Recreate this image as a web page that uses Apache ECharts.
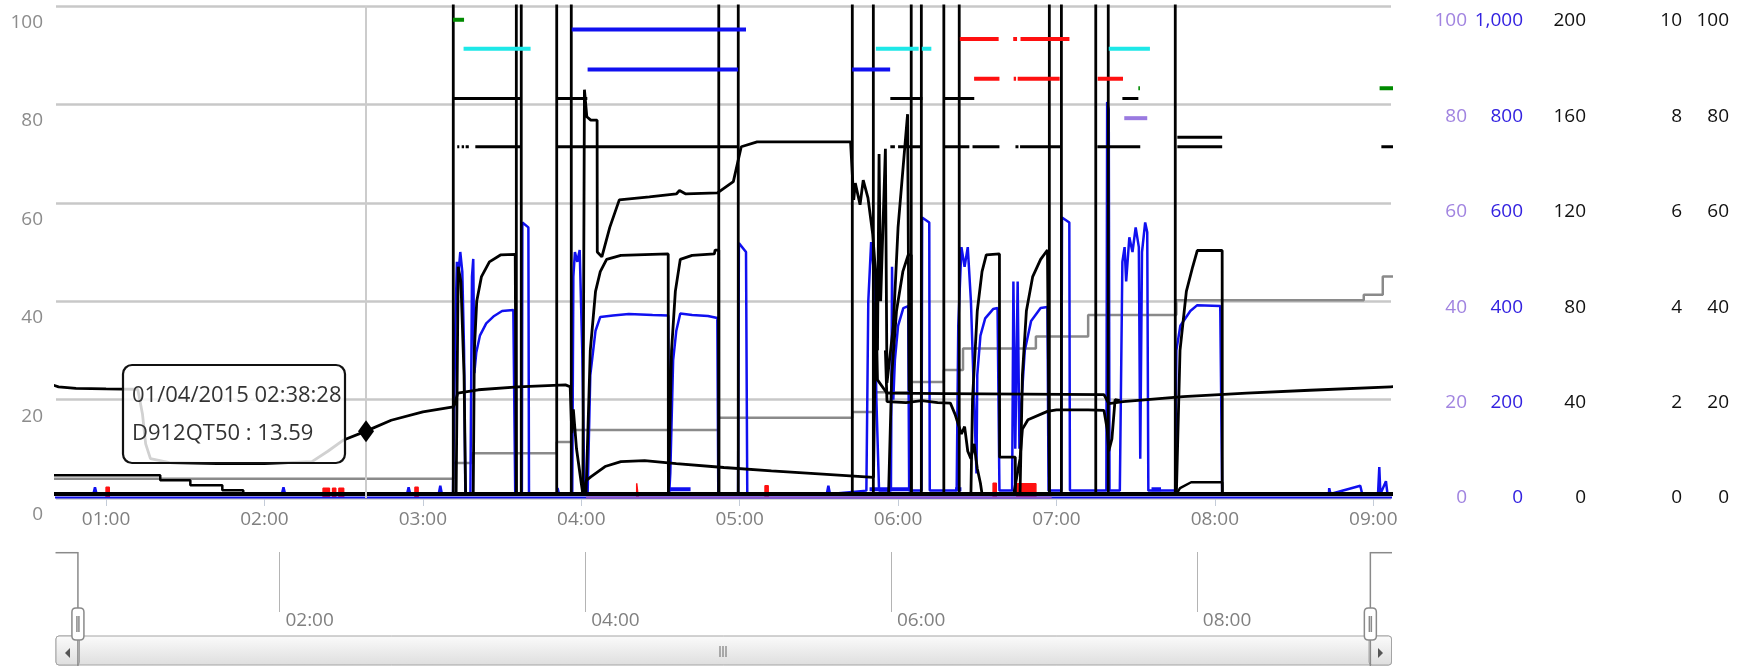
<!DOCTYPE html>
<html>
<head>
<meta charset="utf-8">
<script src="https://cdn.jsdelivr.net/npm/echarts@6.0.0/dist/echarts.min.js"></script>
<style>
  html, body { margin: 0; padding: 0; background: #fff; }
  #main { width: 1750px; height: 666px; }
</style>
</head>
<body>
<div id="main"></div>
<script>
// all times are decimal hours of 01/04/2015, values in left-axis units (0-100)
const dataStart = 0.55;
const dataEnd = 9.252;
const viewStart = 0.684;
const viewEnd = 9.112;

const leftMax = 100;
const rightMax = [100, 1000, 200, 10, 100];
const overviewHours = [0, 10];   // tick labels 02:00 .. 08:00 of the zoom bar

const tipHour = 2.6411;   // 02:38:28
const tipName = 'D912QT50';

const grayStep = [
  [0.536, 3.9], [3.192, 3.9], [3.192, 7.1], [3.31, 7.1], [3.31, 9.1], [3.845, 9.1], [3.845, 11.4],
  [3.94, 11.4], [3.94, 13.8], [4.868, 13.8], [4.868, 16.3], [5.711, 16.3], [5.711, 17.5], [5.844, 17.5],
  [5.844, 21.5], [6.083, 21.5], [6.083, 23.6], [6.289, 23.6], [6.289, 26], [6.41, 26], [6.41, 30.4],
  [6.87, 30.4], [6.87, 32.8], [7.20, 32.8], [7.20, 37.2], [7.757, 37.2], [7.757, 40.2], [8.94, 40.2],
  [8.94, 41.3], [9.06, 41.3], [9.06, 45], [9.277, 45]
];

const blueFloor = [[0.536, 0.1], [9.277, 0.1]];
const purpleFloor = [[4.03, 0.1], [6.97, 0.1]];

const redBlocks = [[1.0, 1.02, 2.2], [2.37, 2.41, 2.0], [2.43, 2.45, 2.0], [2.47, 2.50, 2.0],
  [2.95, 2.97, 2.2], [4.35, 4.36, 3], [5.16, 5.18, 2.5], [6.60, 6.62, 3], [6.75, 6.87, 2.9]];

const blueLowSpans = [[4.55, 4.69], [5.82, 6.07], [6.36, 6.40], [7.60, 7.66]];
const blueLowLevel = 1.8;

const blueMain = [
  [0.536, 0.8], [0.92, 0.8], [0.93, 2.2], [0.94, 0.8], [2.11, 0.8], [2.12, 2.2], [2.13, 0.8],
  [2.90, 0.8], [2.91, 2.2], [2.92, 0.8], [3.10, 0.8], [3.11, 2.5], [3.12, 0.8],
  [3.19, 0.8], [3.205, 35], [3.215, 48], [3.223, 45], [3.236, 50], [3.249, 46], [3.26, 30], [3.268, 0.8],
  [3.30, 0.8], [3.31, 45], [3.318, 48.6], [3.325, 25.4], [3.337, 29.5], [3.36, 33], [3.40, 35.5],
  [3.45, 37], [3.50, 38], [3.571, 38.2], [3.583, 0.8], [3.625, 0.8], [3.628, 56], [3.666, 55], [3.67, 0.8],
  [3.849, 0.8], [3.85, 2], [3.86, 0.8],
  [3.943, 0.8], [3.95, 45], [3.96, 50], [3.975, 48], [3.99, 50.4], [4.006, 30], [4.02, 0.8], [4.04, 0.8],
  [4.057, 25], [4.09, 34], [4.12, 36.8], [4.20, 37.1], [4.30, 37.4], [4.45, 37.2], [4.549, 37.1],
  [4.555, 0.8], [4.562, 5], [4.58, 28], [4.60, 34], [4.625, 37.5], [4.70, 37.2], [4.80, 37], [4.859, 36.6],
  [4.865, 0.8], [4.99, 0.8], [4.995, 51.8], [5.04, 50], [5.048, 0.8], [5.55, 0.8], [5.56, 2.5], [5.57, 0.8],
  [5.80, 1.5], [5.812, 40], [5.83, 52], [5.85, 45], [5.863, 20], [5.88, 1.5], [5.955, 1.5], [5.962, 47],
  [5.97, 20], [5.98, 28], [6.00, 35], [6.033, 38.6], [6.064, 39], [6.07, 1.5], [6.148, 1.5], [6.152, 57],
  [6.197, 56], [6.20, 1.5], [6.37, 1.5], [6.38, 35], [6.40, 51], [6.42, 47], [6.44, 51], [6.46, 40],
  [6.48, 20], [6.495, 5], [6.50, 25], [6.52, 33], [6.55, 36.5], [6.60, 38.4], [6.628, 38.6], [6.64, 1.5],
  [6.72, 1.5], [6.728, 44], [6.74, 10], [6.755, 44], [6.766, 10], [6.78, 20], [6.80, 30], [6.84, 36],
  [6.90, 38.6], [6.943, 38.8], [6.95, 1.5], [7.03, 1.5], [7.035, 57], [7.081, 56], [7.085, 1.5],
  [7.315, 1.5], [7.32, 80.5], [7.33, 79], [7.335, 1.5], [7.40, 1.5], [7.416, 48], [7.43, 51], [7.44, 44],
  [7.46, 53], [7.48, 50], [7.50, 55], [7.52, 51], [7.529, 8], [7.54, 50], [7.56, 56], [7.573, 54],
  [7.58, 1.5], [7.75, 1.5], [7.757, 30], [7.782, 35], [7.845, 38], [7.889, 39.2], [8.034, 39],
  [8.046, 0.8], [8.72, 0.8], [8.722, 2], [8.73, 0.8], [8.918, 2.5], [8.93, 0.8], [9.03, 0.8],
  [9.038, 6.3], [9.045, 0.8], [9.08, 3.4], [9.09, 0.8], [9.277, 0.8]
];

const blackBase = [[0.536, 0.8], [9.277, 0.8]];

const blackSteps = [
  [0.536, 4.6], [1.342, 4.6], [1.342, 3.6], [1.532, 3.6], [1.532, 2.6], [1.734, 2.6], [1.734, 1.6],
  [1.866, 1.6], [1.866, 0.8], [7.757, 0.8], [7.78, 2], [7.85, 3.2], [8.046, 3.2], [8.047, 0.8]
];

const blackSat = [
  [3.21, 0.8], [3.223, 47], [3.24, 44], [3.26, 25], [3.27, 0.8],
  [3.318, 0.8], [3.325, 30], [3.34, 40], [3.37, 45], [3.42, 48], [3.49, 49.4], [3.583, 49.5], [3.59, 0.8],
  [4.03, 0.8], [4.057, 30], [4.09, 42], [4.12, 46], [4.16, 48.5], [4.25, 49.3], [4.549, 49.6], [4.55, 0.8],
  [4.562, 0.8], [4.57, 30], [4.594, 42], [4.625, 48.5], [4.70, 49.3], [4.84, 49.6], [4.845, 50.4],
  [4.868, 50.4], [4.869, 0.8],
  [5.94, 0.8], [5.96, 25], [5.99, 38], [6.03, 46], [6.064, 49.4], [6.083, 49.4], [6.084, 0.8],
  [6.46, 0.8], [6.47, 20], [6.50, 38], [6.53, 46], [6.557, 49.4], [6.64, 49.6], [6.641, 8.3],
  [6.74, 8.3], [6.741, 0.8],
  [6.77, 0.8], [6.785, 25], [6.81, 38], [6.85, 45], [6.90, 48.5], [6.943, 50.4], [6.955, 50.4], [6.956, 0.8],
  [7.757, 0.8], [7.78, 30], [7.82, 42], [7.86, 47], [7.889, 50.3], [8.046, 50.3], [8.047, 0.8]
];

const blackHigh = [
  [4.01, 0.8], [4.02, 83], [4.035, 77.5], [4.06, 76.8], [4.10, 76.8], [4.101, 50], [4.13, 49], [4.18, 55],
  [4.24, 60.6], [4.43, 61.2], [4.60, 61.8], [4.62, 62.5], [4.66, 61.8], [4.86, 62], [4.96, 64.3],
  [5.01, 71.4], [5.11, 72.4], [5.70, 72.4], [5.72, 60.6], [5.73, 64], [5.76, 59.6], [5.78, 64.6],
  [5.81, 61], [5.84, 53.6], [5.86, 45], [5.87, 30], [5.88, 69.9], [5.89, 40], [5.92, 71], [5.93, 23.4],
  [5.97, 35], [6.00, 55], [6.06, 78], [6.07, 22], [6.09, 21]
];

const blackMid = [
  [5.92, 30], [5.93, 19.6], [6.05, 19.4], [6.15, 19.8], [6.25, 19.4], [6.33, 19.3], [6.36, 17], [6.38, 15],
  [6.40, 13], [6.42, 14.5], [6.44, 9.5], [6.46, 8], [6.48, 11], [6.50, 6], [6.52, 3], [6.53, 0.8]
];

const blackArc = [
  [6.73, 0.8], [6.77, 8], [6.785, 14], [6.82, 15.9], [6.943, 17.6], [7.0, 17.9], [7.2, 17.9], [7.3, 17.8],
  [7.32, 14], [7.33, 9.5], [7.35, 12], [7.37, 20], [7.40, 19.8]
];

const d912 = [
  [0.536, 24.2], [0.62, 23.4], [0.70, 22.6], [0.81, 22.3], [1.0, 22.2], [1.20, 22.1], [1.23, 17],
  [1.25, 11], [1.28, 8], [1.40, 7.2], [1.70, 7.0], [2.00, 7.0], [2.30, 7.4], [2.40, 9.5], [2.50, 11.8],
  [2.6411, 13.59], [2.80, 15.8], [3.00, 17.5], [3.192, 18.5], [3.20, 19], [3.22, 21.3], [3.35, 22],
  [3.60, 22.6], [3.90, 23.0], [3.93, 22.6], [3.94, 13.2], [3.95, 18], [3.97, 10], [4.00, 3], [4.01, 0.8],
  [4.03, 3.5], [4.06, 4.3], [4.15, 6.4], [4.25, 7.4], [4.40, 7.6], [4.60, 7.0], [4.90, 6.2], [5.20, 5.5],
  [5.50, 4.9], [5.845, 4.2], [5.86, 40], [5.87, 24], [5.93, 21.3], [6.30, 21.2], [6.80, 21.1],
  [7.30, 21.0], [7.33, 19.2], [7.42, 19.6], [7.80, 20.6], [8.20, 21.3], [8.60, 21.9], [9.11, 22.6],
  [9.277, 22.8]
];

// on/off trace, switching between ~0 and off-scale
const valveEdges = [3.192, 3.590, 3.621, 3.845, 3.937, 4.868, 4.991, 5.711, 5.844, 6.083,
  6.147, 6.289, 6.386, 6.955, 7.031, 7.248, 7.327, 7.750];
const valveLow = 0.8;
const valveHigh = 115;

const dash81Spans = [[3.192, 3.616], [3.849, 4.038], [5.951, 6.154], [6.292, 6.481], [7.416, 7.517]];
const dash81Level = 81.2;
const dash71Spans = [[3.217, 3.23], [3.245, 3.26], [3.27, 3.29], [3.331, 3.616], [3.849, 4.991],
  [5.951, 5.98], [6.0, 6.141], [6.292, 6.45], [6.47, 6.64], [6.741, 6.76], [6.77, 7.025],
  [7.258, 7.529], [7.763, 8.046], [9.051, 9.277]];
const dash71Level = 71.4;
const dash73Spans = [[7.763, 8.046]];
const dash73Level = 73.3;

const greenHiSpans = [[3.19, 3.26]];
const greenHiLevel = 97.2;
const greenLoSpans = [[7.517, 7.527], [9.04, 9.277]];
const greenLoLevel = 83.3;
const cyanSpans = [[3.257, 3.68], [5.86, 6.13], [6.15, 6.21], [7.33, 7.59]];
const cyanLevel = 91.3;
const blueHiSpans = [[3.94, 5.04]];
const blueHiLevel = 95.2;
const blueLoSpans = [[4.04, 4.99], [5.71, 5.95]];
const blueLoLevel = 87.1;
const redHiSpans = [[6.39, 6.635], [6.727, 6.751], [6.773, 7.082]];
const redHiLevel = 93.3;
const redLoSpans = [[6.48, 6.64], [6.73, 6.745], [6.755, 7.02], [7.26, 7.42]];
const redLoLevel = 85.2;
const purpleSpans = [[7.428, 7.573]];
const purpleLevel = 77.2;

// ---------------------------------------------------------------
const FONT = "'Open Sans', 'Liberation Sans', sans-serif";
const BASE = new Date(2015, 3, 1).getTime();
const HOUR = 3600 * 1000;

function toTime(h) {
  return BASE + Math.round(h * 3600) * 1000;
}
function pts(arr) {
  return arr.map(p => [toTime(p[0]), p[1]]);
}
function spans(list, level) {
  const out = [];
  list.forEach(s => {
    out.push([toTime(s[0]), level], [toTime(s[1]), level], [toTime(s[1]) + 1000, '-']);
  });
  return out;
}
function blocks(list) {
  const out = [];
  list.forEach(b => {
    out.push([toTime(b[0]), 0], [toTime(b[0]), b[2]], [toTime(b[1]), b[2]], [toTime(b[1]), 0],
      [toTime(b[1]) + 1000, '-']);
  });
  return out;
}
function edges(list, lo, hi) {
  const out = [[toTime(dataStart), lo]];
  list.forEach((e, i) => {
    const up = i % 2 === 0;
    out.push([toTime(e), up ? lo : hi], [toTime(e), up ? hi : lo]);
  });
  out.push([toTime(dataEnd), lo]);
  return out;
}
function pad(n) {
  return n < 10 ? '0' + n : '' + n;
}
function hhmm(v) {
  const d = new Date(v);
  return pad(d.getHours()) + ':' + pad(d.getMinutes());
}

function line(name, data, color, width, extra) {
  return Object.assign({
    name: name,
    type: 'line',
    xAxisIndex: 0,
    yAxisIndex: 0,
    data: data,
    showSymbol: false,
    symbol: 'none',
    connectNulls: false,
    animation: false,
    silent: true,
    lineStyle: { color: color, width: width },
    itemStyle: { color: color }
  }, extra || {});
}

const tipIndex = d912.findIndex(p => p[0] === tipHour);
const tipValue = d912[tipIndex][1];
const tipDate = new Date(toTime(tipHour));
const tipStamp = pad(tipDate.getDate()) + '/' + pad(tipDate.getMonth() + 1) + '/' + tipDate.getFullYear() + ' ' +
  pad(tipDate.getHours()) + ':' + pad(tipDate.getMinutes()) + ':' + pad(tipDate.getSeconds());

const series = [
  line('gray', pts(grayStep), '#8a8a8a', 2.5, {
    markLine: {
      silent: true,
      symbol: 'none',
      label: { show: false },
      lineStyle: { color: '#cccccc', width: 2, type: 'solid' },
      data: [{ xAxis: toTime(tipHour) }]
    }
  }),
  line('red', blocks(redBlocks), '#ff1010', 1.5, { areaStyle: { color: '#ff1010', opacity: 1 } }),
  line('floor', pts(blueFloor), '#1010e8', 2),
  line('floor2', pts(purpleFloor), '#8a4fc8', 2),
  line('blueLow', spans(blueLowSpans, blueLowLevel), '#1010f0', 4),
  line('blue', pts(blueMain), '#1010f0', 2.5),
  line('base', pts(blackBase), '#000', 4),
  line('steps', pts(blackSteps), '#000', 2.5),
  line('sat', pts(blackSat), '#000', 2.8),
  line('high', pts(blackHigh), '#000', 2.8),
  line('mid', pts(blackMid), '#000', 2.8),
  line('arc', pts(blackArc), '#000', 2.8),
  line(tipName, pts(d912), '#000', 2.8, {
    markPoint: {
      silent: true,
      symbol: 'diamond',
      symbolSize: [16, 22],
      label: { show: false },
      itemStyle: { color: '#000' },
      data: [{ coord: [toTime(tipHour), tipValue] }]
    }
  }),
  line('valve', edges(valveEdges, valveLow, valveHigh), '#000', 2.8),
  line('d81', spans(dash81Spans, dash81Level), '#000', 3),
  line('d71', spans(dash71Spans, dash71Level), '#000', 3),
  line('d73', spans(dash73Spans, dash73Level), '#000', 3),
  line('gHi', spans(greenHiSpans, greenHiLevel), '#008a00', 4),
  line('gLo', spans(greenLoSpans, greenLoLevel), '#008a00', 4),
  line('cyan', spans(cyanSpans, cyanLevel), '#1ee8e8', 4),
  line('bHi', spans(blueHiSpans, blueHiLevel), '#1010f0', 4),
  line('bLo', spans(blueLoSpans, blueLoLevel), '#1010f0', 4),
  line('rHi', spans(redHiSpans, redHiLevel), '#ff1010', 4),
  line('rLo', spans(redLoSpans, redLoLevel), '#ff1010', 4),
  line('purple', spans(purpleSpans, purpleLevel), '#9a7ae0', 4)
];

const rightColors = ['#a184e0', '#3322e0', '#111', '#111', '#111'];
const rightOffsets = [76, 132, 195, 291, 338];
const rightAxes = rightMax.map((m, i) => ({
  type: 'value',
  gridIndex: 1,
  position: 'right',
  offset: rightOffsets[i],
  min: 0,
  max: m,
  interval: m / 5,
  axisLine: { show: false },
  axisTick: { show: false },
  splitLine: { show: false },
  axisLabel: { color: rightColors[i], fontSize: 19, fontFamily: FONT, align: 'right', margin: 0 }
}));

const handlePath = 'path://M7,0L7,26M1,30Q1,26,5,26L9,26Q13,26,13,30L13,54Q13,58,9,58L5,58Q1,58,1,54ZM7,58L7,114M6,34L6,50M8,34L8,50';

const scrollFill = new echarts.graphic.LinearGradient(0, 0, 0, 1, [
  { offset: 0, color: '#fbfbfb' }, { offset: 1, color: '#dedede' }
]);

const option = {
  animation: false,
  backgroundColor: '#fff',
  textStyle: { fontFamily: FONT },
  grid: [
    { left: 56, right: 359, top: 6, height: 492, containLabel: false, outerBoundsMode: 'none' },
    { left: 56, right: 359, top: 21, height: 477, containLabel: false, outerBoundsMode: 'none' },
    { left: -26.4, right: 247.4, top: 552, height: 60, containLabel: false, outerBoundsMode: 'none' }
  ],
  xAxis: [
    {
      type: 'time', gridIndex: 0,
      min: toTime(dataStart), max: toTime(dataEnd),
      minInterval: HOUR, maxInterval: HOUR,
      axisLine: { show: false },
      axisTick: { show: true, length: 8, lineStyle: { color: '#c4ccd8', width: 1 } },
      splitLine: { show: false },
      axisLabel: {
        color: '#808080', fontSize: 19, fontFamily: FONT, margin: 12,
        showMinLabel: false, showMaxLabel: false, formatter: hhmm
      }
    },
    { type: 'value', gridIndex: 1, show: false, min: 0, max: 1 },
    {
      type: 'value', gridIndex: 2,
      min: overviewHours[0], max: overviewHours[1], interval: 2,
      axisLine: { show: false },
      axisTick: { show: false },
      splitLine: { show: true, showMinLine: false, showMaxLine: false, lineStyle: { color: '#b4b4b4', width: 1 } },
      axisLabel: {
        color: '#808080', fontSize: 19, fontFamily: FONT, margin: -1, align: 'left',
        padding: [0, 0, 0, 6], showMinLabel: false, showMaxLabel: false,
        formatter: v => pad(v) + ':00'
      }
    }
  ],
  yAxis: [
    {
      type: 'value', gridIndex: 0, min: 0, max: leftMax, interval: leftMax / 5,
      axisLine: { show: false },
      axisTick: { show: false },
      splitLine: { show: true, lineStyle: { color: '#c8c8c8', width: 2.5 } },
      axisLabel: { color: '#8c8c8c', fontSize: 19, fontFamily: FONT, margin: 13, verticalAlign: 'top', padding: [7, 0, 0, 0] }
    }
  ].concat(rightAxes).concat([
    { type: 'value', gridIndex: 2, show: false, min: 0, max: 1 }
  ]),
  dataZoom: [{
    type: 'slider',
    xAxisIndex: 0,
    filterMode: 'none',
    left: 55.5,
    right: 358,
    top: 552,
    height: 114,
    startValue: toTime(viewStart),
    endValue: toTime(viewEnd),
    backgroundColor: 'rgba(0,0,0,0)',
    borderColor: 'rgba(0,0,0,0)',
    fillerColor: 'rgba(0,0,0,0)',
    showDataShadow: false,
    dataBackground: { lineStyle: { opacity: 0 }, areaStyle: { opacity: 0 } },
    selectedDataBackground: { lineStyle: { opacity: 0 }, areaStyle: { opacity: 0 } },
    showDetail: false,
    brushSelect: false,
    moveHandleSize: 0,
    handleIcon: handlePath,
    handleSize: '100%',
    handleStyle: { color: '#fff', borderColor: '#8a8a8a', borderWidth: 1.5 },
    emphasis: { handleStyle: { color: '#fff', borderColor: '#8a8a8a', borderWidth: 1.5 } },
    z: 6
  }],
  graphic: {
    elements: [
      { type: 'rect', z: 3, shape: { x: 56, y: 636, width: 1335.5, height: 29, r: 3 },
        style: { fill: scrollFill, stroke: '#a4a4a4', lineWidth: 1 } },
      { type: 'rect', z: 3, shape: { x: 56, y: 636, width: 23.5, height: 29, r: 3 },
        style: { fill: scrollFill, stroke: '#a4a4a4', lineWidth: 1 } },
      { type: 'rect', z: 3, shape: { x: 1369, y: 636, width: 22.5, height: 29, r: 3 },
        style: { fill: scrollFill, stroke: '#a4a4a4', lineWidth: 1 } },
      { type: 'polygon', z: 3, shape: { points: [[70, 648], [70, 658], [65, 653]] }, style: { fill: '#555' } },
      { type: 'polygon', z: 3, shape: { points: [[1378, 648], [1378, 658], [1383, 653]] }, style: { fill: '#555' } },
      { type: 'line', z: 3, shape: { x1: 720, y1: 646, x2: 720, y2: 657 }, style: { stroke: '#666', lineWidth: 1 } },
      { type: 'line', z: 3, shape: { x1: 723, y1: 646, x2: 723, y2: 657 }, style: { stroke: '#666', lineWidth: 1 } },
      { type: 'line', z: 3, shape: { x1: 726, y1: 646, x2: 726, y2: 657 }, style: { stroke: '#666', lineWidth: 1 } },
      { type: 'line', z: 3, shape: { x1: 55.5, y1: 552.7, x2: 78, y2: 552.7 }, style: { stroke: '#8a8a8a', lineWidth: 1.5 } },
      { type: 'line', z: 3, shape: { x1: 1370, y1: 552.7, x2: 1392, y2: 552.7 }, style: { stroke: '#8a8a8a', lineWidth: 1.5 } },
      // hover box at the marked point
      { type: 'rect', z: 100, shape: { x: 123, y: 365, width: 222, height: 98, r: 9 },
        style: { fill: 'rgba(255,255,255,0.82)', stroke: '#111', lineWidth: 2.2 } },
      { type: 'text', z: 101, x: 132, y: 396,
        style: { text: tipStamp, fill: '#333', fontSize: 22, fontFamily: FONT, verticalAlign: 'middle' } },
      { type: 'text', z: 101, x: 132, y: 434,
        style: { text: tipName + ' : ' + tipValue.toFixed(2), fill: '#333', fontSize: 22, fontFamily: FONT, verticalAlign: 'middle' } }
    ]
  },
  series: series
};

const chart = echarts.init(document.getElementById('main'), null, { renderer: 'canvas' });
chart.setOption(option);
</script>
</body>
</html>
